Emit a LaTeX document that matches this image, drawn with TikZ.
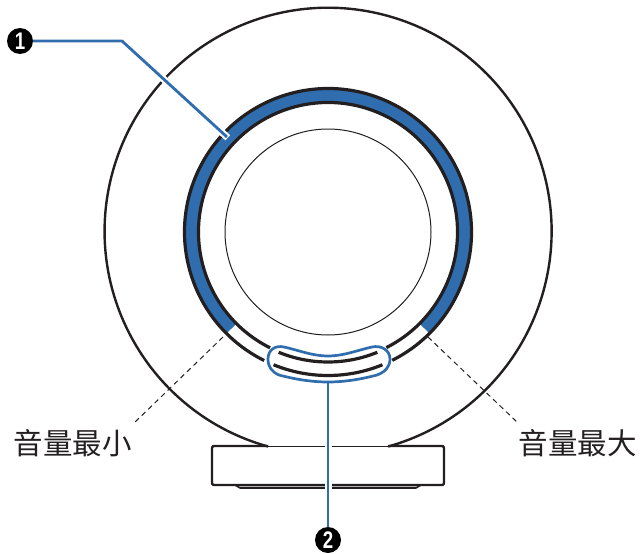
\documentclass[tikz,border=0pt]{standalone}
\usepackage{fontspec}
\newfontfamily\cjk{Noto Sans CJK SC}
\newfontfamily\numfont[FakeStretch=0.78]{Liberation Sans}
\definecolor{leaderblue}{HTML}{2F6DAE}
\definecolor{inkblack}{HTML}{231F20}

\begin{document}
\begin{tikzpicture}[x=1pt,y=-1pt,line join=round]

                \tikzset{callout/.style = {shape=circle,fill=black,text=white,inner sep=0pt,minimum size=26pt,font=\numfont\bfseries\fontsize{24}{24}\selectfont}}
                \tikzset{caption/.style = {font=\cjk\fontsize{29.5}{29.5}\selectfont,text=inkblack,inner sep=0pt}}
                \tikzset{leader/.style = {draw=leaderblue,line width=2.8pt,preaction={draw=white,line width=7pt,shorten >=-1pt}}}
                \tikzset{pointer/.style = {draw=inkblack,line width=1pt,dash pattern=on 5pt off 4pt}}
                \tikzset{body/.style = {draw=inkblack,line width=2.4pt}}
                \tikzset{rim/.style = {draw=inkblack,line width=3.2pt}}

                \useasboundingbox (0,0) rectangle (640,554);
                \coordinate (c) at (328,232);

                % shell and base
                \draw[body] (268,446.5) arc [start angle=105.6,delta angle=328.8,radius=223.5];
                \draw[body,rounded corners=2pt] (268,446) -- (212,446) -- (212,485) -- (444,485) -- (444,446) -- (388,446);
                \draw[draw=inkblack,line width=1pt] (268,446) -- (388,446);
                \draw[draw=inkblack,line width=1.6pt,fill=white!70!black] (235,485) -- (240,488) -- (416,488) -- (421,485) -- cycle;

                % ring
                \draw[draw=leaderblue,line width=14pt] ([shift={(135:136.5)}]c) arc [start angle=135,delta angle=270,radius=136.5];
                \draw[rim] ([shift={(116.4:143.5)}]c) arc [start angle=116.4,delta angle=307,radius=143.5];
                \draw[rim] ([shift={(116.6:129.5)}]c) arc [start angle=116.6,delta angle=306.6,radius=129.5];
                \draw[rim] ([shift={(112.3:130)}]c) arc [start angle=112.3,delta angle=-44.6,radius=130];
                \draw[rim] ([shift={(112.3:143.5)}]c) arc [start angle=112.3,delta angle=-44.6,radius=143.5];

                % inner circle
                \draw[draw=inkblack,line width=1pt] (c) circle [radius=103];

                \node[caption] (minlabel) at (72.5,443) {音量最小};
                \node[caption] (maxlabel) at (577.5,443) {音量最大};
                \node[callout] (one) at (20,41) {1};
                \node[callout] (two) at (328,540) {2};
                \coordinate (bend) at (122,41);
                \coordinate (ringend) at (227,137);
                \coordinate (ovalend) at (328,382);
                \coordinate (minstart) at (223,337);
                \coordinate (minend) at (133,424);
                \coordinate (maxstart) at (428,337);
                \coordinate (maxend) at (518,423);

                \draw[leader] (one) -- (bend) -- (ringend);
                \draw[leader] (two) -- (ovalend);
                \draw[pointer] (minstart) -- (minend);
                \draw[pointer] (maxstart) -- (maxend);

                % indicator outline
                \draw[draw=leaderblue,line width=2.7pt] (268,359)
                    .. controls (268,350) and (275,345) .. (284,347)
                    .. controls (298,350) and (312,356) .. (328,356)
                    .. controls (344,356) and (358,350) .. (372,347)
                    .. controls (381,345) and (390,350) .. (390,359)
                    .. controls (390,367) and (385,372) .. (377,375)
                    .. controls (362,379) and (345,382) .. (328,382)
                    .. controls (311,382) and (294,379) .. (279,375)
                    .. controls (272,372) and (268,367) .. (268,359) -- cycle;
            \end{tikzpicture}
\end{document}
